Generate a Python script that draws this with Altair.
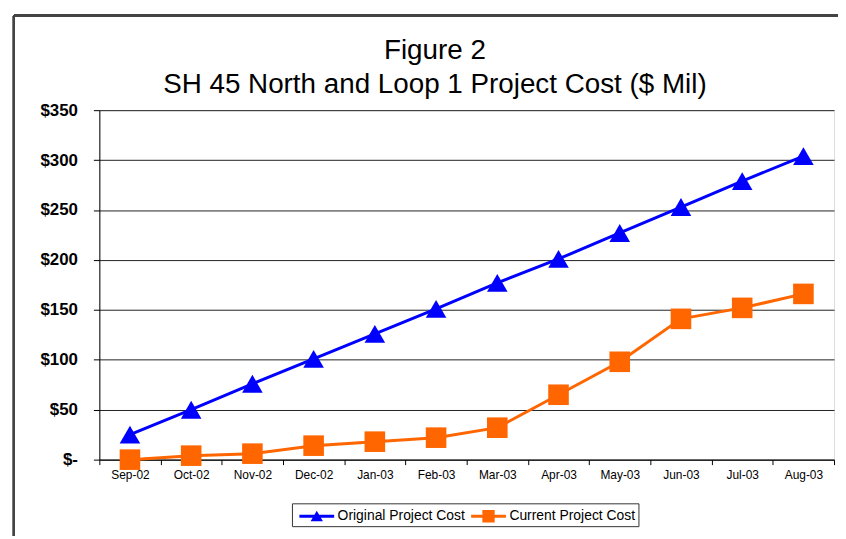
import altair as alt
import pandas as pd

months = ["Sep-02", "Oct-02", "Nov-02", "Dec-02", "Jan-03", "Feb-03",
          "Mar-03", "Apr-03", "May-03", "Jun-03", "Jul-03", "Aug-03"]
original_cost = [25, 50, 76, 101, 126, 151, 177, 201, 227, 253, 279, 304]
current_cost = [0, 4, 6, 14, 18, 22, 32, 65, 98, 141, 152, 166]
series_names = ["Original Project Cost", "Current Project Cost"]
series_colors = ["#0000FF", "#FF6600"]
series_shapes = ["triangle-up", "square"]
y_ticks = [0, 50, 100, 150, 200, 250, 300, 350]
title_lines = ["Figure 2", "SH 45 North and Loop 1 Project Cost ($ Mil)"]

df = pd.DataFrame({
    "month": months * 2,
    "cost": original_cost + current_cost,
    "series": [series_names[0]] * len(months) + [series_names[1]] * len(months),
})

FONT = "Liberation Sans"

# legend symbols: a short line with the marker on it
leg_tri = "M-1.75,-0.15H1.75V0.15H-1.75Z M0,-0.55L0.62,0.5H-0.62Z"
leg_sq = "M-1.75,-0.15H1.75V0.15H-1.75Z M-0.62,-0.62H0.62V0.62H-0.62Z"
sym_expr = f"datum.value == '{series_names[0]}' ? '{leg_tri}' : '{leg_sq}'"
col_expr = f"datum.value == '{series_names[0]}' ? '{series_colors[0]}' : '{series_colors[1]}'"

x_enc = alt.X("month:N", sort=months, title=None, bandPosition=0.5,
              scale=alt.Scale(type="band", paddingInner=0, paddingOuter=0),
              axis=alt.Axis(labelAngle=0, labelFont=FONT, labelFontSize=12,
                            labelColor="black", tickBand="extent", tickSize=5,
                            tickColor="black", domainColor="black",
                            labelPadding=5, grid=False))
y_enc = alt.Y("cost:Q", title=None,
              scale=alt.Scale(domain=[0, 350], nice=False),
              axis=alt.Axis(values=y_ticks, labelExpr="datum.value == 0 ? '$-' : '$' + datum.value",
                            labelFont=FONT, labelFontSize=17, labelFontWeight="bold",
                            labelColor="black", tickSize=6, tickColor="black",
                            domainColor="black", labelPadding=16,
                            grid=True, gridColor="#222222", gridWidth=1))
color_enc = alt.Color("series:N", sort=series_names,
                      scale=alt.Scale(domain=series_names, range=series_colors),
                      legend=alt.Legend(title=None, orient="none", direction="horizontal",
                                        legendX=194, legendY=396,
                                        symbolType={"expr": sym_expr},
                                        symbolFillColor={"expr": col_expr},
                                        symbolStrokeColor={"expr": col_expr},
                                        symbolStrokeWidth=0, symbolSize=400,
                                        symbolOffset=12, labelOffset=11, columnPadding=1,
                                        labelFont=FONT, labelFontSize=14, labelColor="black",
                                        padding=3, strokeColor="#333333", fillColor="white"))

base = alt.Chart(df)

lines = base.mark_line(strokeWidth=3).encode(x=x_enc, y=y_enc, color=color_enc)

point_layers = []
for name, colr, shp in zip(series_names, series_colors, series_shapes):
    point_layers.append(
        base.transform_filter(alt.datum.series == name)
        .mark_point(filled=True, opacity=1, size=430, shape=shp, color=colr)
        .encode(x=x_enc, y=y_enc)
    )

frame_left = alt.Chart(df).mark_rule(color="#444444", strokeWidth=2).encode(
    x=alt.value(-86), y=alt.value(-95), y2=alt.value(440))
frame_top = alt.Chart(df).mark_rule(color="#444444", strokeWidth=2).encode(
    x=alt.value(-86), x2=alt.value(760), y=alt.value(-95))

chart = alt.layer(frame_left, frame_top, lines, *point_layers).properties(
    width=740, height=352,
    padding={"left": 92, "top": 101, "right": 4, "bottom": 75},
    autosize=alt.AutoSizeParams(type="none"),
    title=alt.TitleParams(text=title_lines, font=FONT, fontSize=28, fontWeight="normal",
                          color="black", anchor="middle", dx=-32, offset=-85, lineHeight=35),
).configure_view(stroke="black", strokeWidth=1).configure(background="white")

chart.save("out.html", embed_options={"renderer": "svg", "actions": False})
